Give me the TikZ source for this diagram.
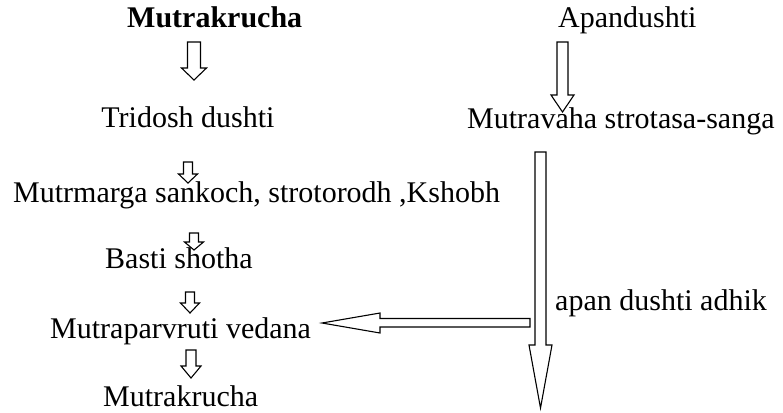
\documentclass[tikz,border=0pt]{standalone}
\usepackage{fontspec}
\setmainfont{Liberation Serif}
\tikzset{
  lbl/.style={inner sep=0pt, font=\fontsize{30bp}{36bp}\selectfont},
  blockarrow/.style={draw=black, line width=1.1bp, fill=white, line join=miter}
}
% #1 centre x, #2 top y, #3 head start y, #4 tip y, #5 shaft half width, #6 head half width
\newcommand\downblock[6]{%
  \draw[blockarrow] (#1-#5,#2) -- (#1+#5,#2) -- (#1+#5,#3) -- (#1+#6,#3) -- (#1,#4) -- (#1-#6,#3) -- (#1-#5,#3) -- cycle;}
\begin{document}
\begin{tikzpicture}[x=1bp,y=-1bp]
\useasboundingbox (0,0) rectangle (783,412);
% left column
\node[lbl, font=\fontsize{30bp}{36bp}\selectfont\bfseries, anchor=base west] (m1) at (127,27) {Mutrakrucha};
\node[lbl, anchor=base] (td) at (188,127) {Tridosh dushti};
\node[lbl, anchor=base west] (mm) at (13,202) {Mutrmarga sankoch, strotorodh ,Kshobh};
\node[lbl, anchor=base west] (bs) at (105,268) {Basti shotha};
\node[lbl, anchor=base west] (mv) at (50,338) {Mutraparvruti vedana};
\node[lbl, anchor=base west] (m2) at (103,406) {Mutrakrucha};
% right column
\node[lbl, anchor=base west] (ap) at (558,27) {Apandushti};
\node[lbl, anchor=base west] (ms) at (467,128) {Mutravaha strotasa-sanga};
\node[lbl, anchor=base west] (ad) at (555,310) {apan dushti adhik};
% arrows left column
\downblock{194}{42}{68}{80}{6.5}{12.5}
\downblock{188}{162}{174}{183}{4.5}{9.5}
\downblock{194}{233}{242}{250}{4.5}{9.5}
\downblock{190}{292}{303}{313}{4.5}{9.5}
\downblock{191}{350}{366}{378}{5}{10}
% arrows right column
\downblock{562.5}{42}{95}{112}{5.5}{11.5}
\downblock{540.5}{152}{345}{408}{5.5}{11.5}
% horizontal arrow
\draw[blockarrow] (530,318.5) -- (530,327) -- (380,327) -- (380,333) -- (322,323) -- (380,313) -- (380,318.5) -- cycle;
\end{tikzpicture}
\end{document}
